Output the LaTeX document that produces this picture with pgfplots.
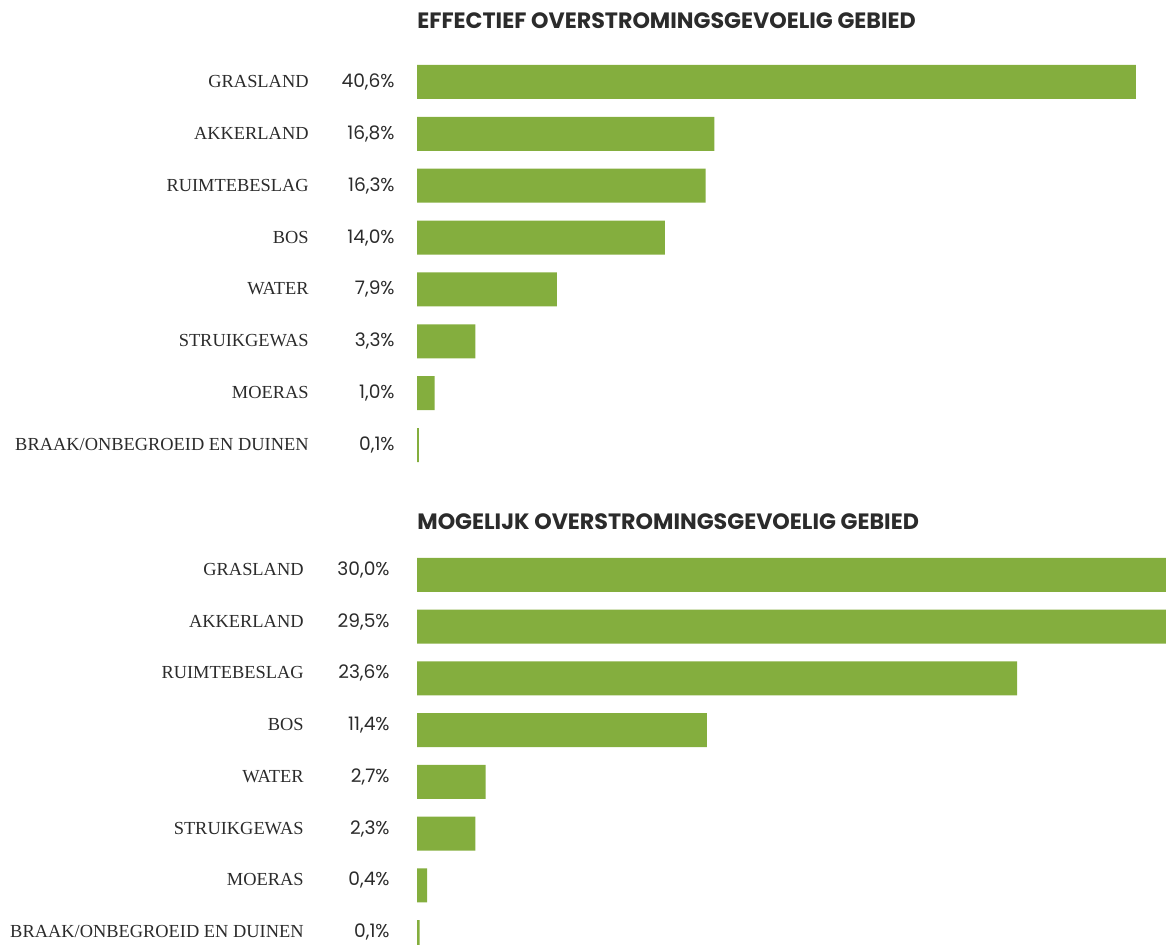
\documentclass[border=0pt]{standalone}
\usepackage{fontspec}
\usepackage{pgfplots}
\pgfplotsset{compat=1.18}
\setmainfont{Liberation Serif}
\newfontfamily\valfont{Poppins}
\newfontfamily\titfont{Poppins}
\definecolor{bargreen}{HTML}{84AE3E}
\definecolor{txt}{HTML}{2B2B2B}
\newcommand{\lab}[2]{{\fontsize{9.2}{11}\selectfont #1}\makebox[43pt][r]{\valfont\fontsize{9.3}{11}\selectfont #2}}
\begin{document}
\begin{tikzpicture}[x=1pt,y=1pt]
\useasboundingbox (0,0) rectangle (583,472.5);
\pgfplotsset{
  mybars/.style={
    scale only axis,
    xbar, bar width=17pt,
    width=374.5pt,
    xmin=0,
    ymin=-0.5, ymax=7.5, y dir=reverse,
    ytick={0,1,2,3,4,5,6,7},
    xtick=\empty,
    axis line style={draw=none},
    major tick length=0pt,
    tick style={draw=none},
    yticklabel style={inner sep=0pt, anchor=east, text=txt},
    title style={at={(0,1)}, anchor=base west, inner sep=0pt, text=txt,
      font=\titfont\bfseries\fontsize{11.1}{13}\selectfont},
  }
}
\begin{axis}[mybars,
  at={(208.5pt,444.5pt)}, anchor=north west,
  height=207.5pt,
  xmax=42.3,
  yticklabel style={xshift=-11pt},
  title={EFFECTIEF OVERSTROMINGSGEVOELIG GEBIED},
  title style={yshift=7.5pt},
  yticklabels={
    {\lab{GRASLAND}{40,6\%}},
    {\lab{AKKERLAND}{16,8\%}},
    {\lab{RUIMTEBESLAG}{16,3\%}},
    {\lab{BOS}{14,0\%}},
    {\lab{WATER}{7,9\%}},
    {\lab{STRUIKGEWAS}{3,3\%}},
    {\lab{MOERAS}{1,0\%}},
    {\lab{BRAAK/ONBEGROEID EN DUINEN}{0,1\%}}},
]
\addplot[fill=bargreen, draw=none] coordinates {(40.6,0) (16.8,1) (16.3,2) (14.0,3) (7.9,4) (3.3,5) (1.0,6) (0.1,7)};
\end{axis}
\begin{axis}[mybars,
  at={(208.5pt,198pt)}, anchor=north west,
  height=207pt,
  xmax=29.45,
  yticklabel style={xshift=-13.5pt, yshift=2.5pt},
  title={MOGELIJK OVERSTROMINGSGEVOELIG GEBIED},
  title style={yshift=3.5pt},
  yticklabels={
    {\lab{GRASLAND}{30,0\%}},
    {\lab{AKKERLAND}{29,5\%}},
    {\lab{RUIMTEBESLAG}{23,6\%}},
    {\lab{BOS}{11,4\%}},
    {\lab{WATER}{2,7\%}},
    {\lab{STRUIKGEWAS}{2,3\%}},
    {\lab{MOERAS}{0,4\%}},
    {\lab{BRAAK/ONBEGROEID EN DUINEN}{0,1\%}}},
]
\addplot[fill=bargreen, draw=none] coordinates {(30.0,0) (29.5,1) (23.6,2) (11.4,3) (2.7,4) (2.3,5) (0.4,6) (0.1,7)};
\end{axis}
\end{tikzpicture}
\end{document}
